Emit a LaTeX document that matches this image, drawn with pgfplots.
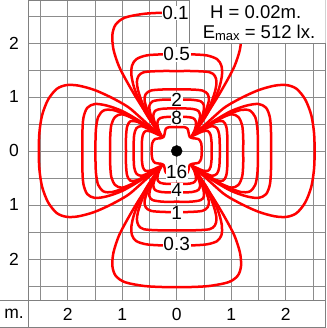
\documentclass[border=0pt]{standalone}
\usepackage{pgfplots}
\pgfplotsset{compat=1.18}
\usepackage{fontspec}
\setmainfont{Liberation Sans}
\pgfplotsset{ct/.style={color=red, line width=2.5pt, smooth, tension=0.5, no markers, line join=round, line cap=round}}
\newcommand{\lbl}[3]{\node[fill=white, inner sep=0.6pt, font=\fontsize{19}{19}\selectfont] at (axis cs:#1,#2) {#3};}
\begin{document}
\begin{tikzpicture}
\path[use as bounding box] (0,0) rectangle (326pt,328pt);
\begin{axis}[
  at={(28pt,28pt)}, anchor=south west,
  scale only axis, width=297.5pt, height=300pt,
  xmin=-2.728, xmax=2.73, ymin=-2.76, ymax=2.796,
  axis line style={draw=black!50, line width=0.8pt},
  xtick={-2,-1,0,1,2}, xticklabels={2,1,0,1,2},
  ytick={-2,-1,0,1,2}, yticklabels={2,1,0,1,2},
  minor xtick={-2.5,-1.5,-0.5,0.5,1.5,2.5},
  minor ytick={-2.5,-1.5,-0.5,0.5,1.5,2.5},
  grid=both,
  major grid style={black!45, line width=0.6pt},
  minor grid style={black!45, line width=0.6pt},
  major tick length=0pt, minor tick length=0pt,
  tick label style={font=\fontsize{17.5}{17.5}\selectfont},
  xticklabel style={anchor=center, yshift=-14pt},
  yticklabel style={anchor=center, xshift=-14pt},
]
% ---- 0.1 ----
\addplot[ct] coordinates {(-0.34,0.34) (-0.42,0.48) (-0.53,0.65) (-0.72,0.95) (-0.90,1.26) (-1.06,1.57) (-1.16,1.88) (-1.18,2.15) (-1.12,2.34) (-0.95,2.47) (-0.60,2.54) (-0.25,2.56) (0,2.56) (0.25,2.56) (0.60,2.54) (0.95,2.47) (1.12,2.34) (1.18,2.15) (1.16,1.88) (1.06,1.57) (0.90,1.26) (0.72,0.95) (0.53,0.65) (0.42,0.48) (0.34,0.34)};
\addplot[ct] coordinates {(-0.34,-0.34) (-0.42,-0.48) (-0.53,-0.65) (-0.72,-0.95) (-0.90,-1.26) (-1.06,-1.57) (-1.16,-1.88) (-1.18,-2.13) (-1.12,-2.31) (-0.95,-2.43) (-0.60,-2.50) (-0.25,-2.52) (0,-2.52) (0.25,-2.52) (0.60,-2.50) (0.95,-2.43) (1.12,-2.31) (1.18,-2.13) (1.16,-1.88) (1.06,-1.57) (0.90,-1.26) (0.72,-0.95) (0.53,-0.65) (0.42,-0.48) (0.34,-0.34)};
\addplot[ct] coordinates {(-0.34,0.34) (-0.48,0.45) (-0.70,0.65) (-0.90,0.82) (-1.20,0.99) (-1.51,1.13) (-1.80,1.21) (-2.02,1.22) (-2.20,1.15) (-2.36,0.95) (-2.47,0.66) (-2.52,0.33) (-2.53,0) (-2.52,-0.33) (-2.47,-0.66) (-2.36,-0.95) (-2.20,-1.15) (-2.02,-1.22) (-1.80,-1.21) (-1.51,-1.13) (-1.20,-0.99) (-0.90,-0.82) (-0.70,-0.65) (-0.48,-0.45) (-0.34,-0.34)};
\addplot[ct] coordinates {(0.34,0.34) (0.48,0.45) (0.70,0.65) (0.90,0.82) (1.20,0.99) (1.51,1.13) (1.80,1.21) (2.02,1.22) (2.20,1.15) (2.36,0.95) (2.47,0.66) (2.52,0.33) (2.53,0) (2.52,-0.33) (2.47,-0.66) (2.36,-0.95) (2.20,-1.15) (2.02,-1.22) (1.80,-1.21) (1.51,-1.13) (1.20,-0.99) (0.90,-0.82) (0.70,-0.65) (0.48,-0.45) (0.34,-0.34)};
% ---- 0.3 ----
\addplot[ct] coordinates {(-0.33,0.33) (-0.42,0.47) (-0.55,0.67) (-0.68,0.92) (-0.78,1.17) (-0.83,1.40) (-0.82,1.58) (-0.74,1.70) (-0.55,1.77) (-0.25,1.79) (0,1.79) (0.25,1.79) (0.55,1.77) (0.74,1.70) (0.82,1.58) (0.83,1.40) (0.78,1.17) (0.68,0.92) (0.55,0.67) (0.42,0.47) (0.33,0.33)};
\addplot[ct] coordinates {(-0.33,-0.33) (-0.42,-0.47) (-0.55,-0.67) (-0.68,-0.92) (-0.78,-1.17) (-0.83,-1.39) (-0.82,-1.56) (-0.74,-1.67) (-0.55,-1.73) (-0.25,-1.75) (0,-1.75) (0.25,-1.75) (0.55,-1.73) (0.74,-1.67) (0.82,-1.56) (0.83,-1.39) (0.78,-1.17) (0.68,-0.92) (0.55,-0.67) (0.42,-0.47) (0.33,-0.33)};
\addplot[ct] coordinates {(-0.33,0.33) (-0.47,0.42) (-0.72,0.58) (-1.00,0.74) (-1.28,0.84) (-1.50,0.87) (-1.64,0.80) (-1.71,0.62) (-1.73,0.35) (-1.73,0) (-1.73,-0.35) (-1.71,-0.62) (-1.64,-0.80) (-1.50,-0.87) (-1.28,-0.84) (-1.00,-0.74) (-0.72,-0.58) (-0.47,-0.42) (-0.33,-0.33)};
\addplot[ct] coordinates {(0.33,0.33) (0.47,0.42) (0.72,0.58) (1.00,0.74) (1.28,0.84) (1.50,0.87) (1.64,0.80) (1.71,0.62) (1.73,0.35) (1.73,0) (1.73,-0.35) (1.71,-0.62) (1.64,-0.80) (1.50,-0.87) (1.28,-0.84) (1.00,-0.74) (0.72,-0.58) (0.47,-0.42) (0.33,-0.33)};
% ---- 0.5 ----
\addplot[ct] coordinates {(-0.32,0.32) (-0.41,0.46) (-0.53,0.67) (-0.64,0.91) (-0.71,1.13) (-0.73,1.28) (-0.70,1.39) (-0.60,1.46) (-0.30,1.48) (0,1.48) (0.30,1.48) (0.60,1.46) (0.70,1.39) (0.73,1.28) (0.71,1.13) (0.64,0.91) (0.53,0.67) (0.41,0.46) (0.32,0.32)};
\addplot[ct] coordinates {(-0.32,-0.32) (-0.41,-0.46) (-0.53,-0.67) (-0.64,-0.91) (-0.71,-1.13) (-0.73,-1.27) (-0.70,-1.38) (-0.60,-1.45) (-0.30,-1.47) (0,-1.47) (0.30,-1.47) (0.60,-1.45) (0.70,-1.38) (0.73,-1.27) (0.71,-1.13) (0.64,-0.91) (0.53,-0.67) (0.41,-0.46) (0.32,-0.32)};
\addplot[ct] coordinates {(-0.32,0.32) (-0.46,0.40) (-0.70,0.55) (-0.95,0.68) (-1.18,0.76) (-1.34,0.75) (-1.44,0.63) (-1.48,0.42) (-1.49,0.18) (-1.49,0) (-1.49,-0.18) (-1.48,-0.42) (-1.44,-0.63) (-1.34,-0.75) (-1.18,-0.76) (-0.95,-0.68) (-0.70,-0.55) (-0.46,-0.40) (-0.32,-0.32)};
\addplot[ct] coordinates {(0.32,0.32) (0.46,0.40) (0.70,0.55) (0.95,0.68) (1.18,0.76) (1.34,0.75) (1.44,0.63) (1.48,0.42) (1.49,0.18) (1.49,0) (1.49,-0.18) (1.48,-0.42) (1.44,-0.63) (1.34,-0.75) (1.18,-0.76) (0.95,-0.68) (0.70,-0.55) (0.46,-0.40) (0.32,-0.32)};
% ---- 1 ----
\addplot[ct] coordinates {(-0.31,0.31) (-0.39,0.44) (-0.48,0.61) (-0.55,0.79) (-0.59,0.94) (-0.57,1.05) (-0.47,1.12) (-0.22,1.14) (0,1.14) (0.22,1.14) (0.47,1.12) (0.57,1.05) (0.59,0.94) (0.55,0.79) (0.48,0.61) (0.39,0.44) (0.31,0.31)};
\addplot[ct] coordinates {(-0.31,-0.31) (-0.39,-0.44) (-0.48,-0.61) (-0.55,-0.79) (-0.59,-0.93) (-0.57,-1.04) (-0.47,-1.11) (-0.22,-1.13) (0,-1.13) (0.22,-1.13) (0.47,-1.11) (0.57,-1.04) (0.59,-0.93) (0.55,-0.79) (0.48,-0.61) (0.39,-0.44) (0.31,-0.31)};
\addplot[ct] coordinates {(-0.31,0.31) (-0.44,0.38) (-0.63,0.50) (-0.84,0.62) (-1.01,0.68) (-1.13,0.63) (-1.20,0.48) (-1.22,0.25) (-1.22,0) (-1.22,-0.25) (-1.20,-0.48) (-1.13,-0.63) (-1.01,-0.68) (-0.84,-0.62) (-0.63,-0.50) (-0.44,-0.38) (-0.31,-0.31)};
\addplot[ct] coordinates {(0.31,0.31) (0.44,0.38) (0.63,0.50) (0.84,0.62) (1.01,0.68) (1.13,0.63) (1.20,0.48) (1.22,0.25) (1.22,0) (1.22,-0.25) (1.20,-0.48) (1.13,-0.63) (1.01,-0.68) (0.84,-0.62) (0.63,-0.50) (0.44,-0.38) (0.31,-0.31)};
% ---- 2 ----
\addplot[ct] coordinates {(-0.30,0.30) (-0.37,0.42) (-0.44,0.57) (-0.49,0.72) (-0.50,0.84) (-0.44,0.92) (-0.25,0.95) (0,0.95) (0.25,0.95) (0.44,0.92) (0.50,0.84) (0.49,0.72) (0.44,0.57) (0.37,0.42) (0.30,0.30)};
\addplot[ct] coordinates {(-0.30,-0.30) (-0.37,-0.42) (-0.44,-0.57) (-0.49,-0.72) (-0.50,-0.84) (-0.44,-0.91) (-0.25,-0.94) (0,-0.94) (0.25,-0.94) (0.44,-0.91) (0.50,-0.84) (0.49,-0.72) (0.44,-0.57) (0.37,-0.42) (0.30,-0.30)};
\addplot[ct] coordinates {(-0.30,0.30) (-0.41,0.36) (-0.56,0.45) (-0.72,0.54) (-0.85,0.55) (-0.91,0.45) (-0.93,0.25) (-0.93,0) (-0.93,-0.25) (-0.91,-0.45) (-0.85,-0.55) (-0.72,-0.54) (-0.56,-0.45) (-0.41,-0.36) (-0.30,-0.30)};
\addplot[ct] coordinates {(0.30,0.30) (0.41,0.36) (0.56,0.45) (0.72,0.54) (0.85,0.55) (0.91,0.45) (0.93,0.25) (0.93,0) (0.93,-0.25) (0.91,-0.45) (0.85,-0.55) (0.72,-0.54) (0.56,-0.45) (0.41,-0.36) (0.30,-0.30)};
% ---- 4 ----
\addplot[ct] coordinates {(-0.29,0.29) (-0.35,0.40) (-0.40,0.52) (-0.43,0.64) (-0.40,0.74) (-0.28,0.78) (0,0.79) (0.28,0.78) (0.40,0.74) (0.43,0.64) (0.40,0.52) (0.35,0.40) (0.29,0.29)};
\addplot[ct] coordinates {(-0.29,-0.29) (-0.35,-0.40) (-0.40,-0.52) (-0.43,-0.63) (-0.40,-0.72) (-0.28,-0.76) (0,-0.77) (0.28,-0.76) (0.40,-0.72) (0.43,-0.63) (0.40,-0.52) (0.35,-0.40) (0.29,-0.29)};
\addplot[ct] coordinates {(-0.29,0.29) (-0.39,0.34) (-0.52,0.41) (-0.65,0.46) (-0.74,0.42) (-0.78,0.30) (-0.79,0.12) (-0.79,0) (-0.79,-0.12) (-0.78,-0.30) (-0.74,-0.42) (-0.65,-0.46) (-0.52,-0.41) (-0.39,-0.34) (-0.29,-0.29)};
\addplot[ct] coordinates {(0.29,0.29) (0.39,0.34) (0.52,0.41) (0.65,0.46) (0.74,0.42) (0.78,0.30) (0.79,0.12) (0.79,0) (0.79,-0.12) (0.78,-0.30) (0.74,-0.42) (0.65,-0.46) (0.52,-0.41) (0.39,-0.34) (0.29,-0.29)};
% ---- 8 ----
\addplot[ct] coordinates {(-0.27,0.27) (-0.32,0.36) (-0.35,0.46) (-0.35,0.55) (-0.30,0.61) (-0.18,0.63) (0,0.63) (0.18,0.63) (0.30,0.61) (0.35,0.55) (0.35,0.46) (0.32,0.36) (0.27,0.27)};
\addplot[ct] coordinates {(-0.27,-0.27) (-0.32,-0.36) (-0.35,-0.46) (-0.35,-0.54) (-0.30,-0.59) (-0.18,-0.61) (0,-0.61) (0.18,-0.61) (0.30,-0.59) (0.35,-0.54) (0.35,-0.46) (0.32,-0.36) (0.27,-0.27)};
\addplot[ct] coordinates {(-0.27,0.27) (-0.36,0.31) (-0.47,0.36) (-0.57,0.37) (-0.62,0.30) (-0.64,0.15) (-0.64,0) (-0.64,-0.15) (-0.62,-0.30) (-0.57,-0.37) (-0.47,-0.36) (-0.36,-0.31) (-0.27,-0.27)};
\addplot[ct] coordinates {(0.27,0.27) (0.36,0.31) (0.47,0.36) (0.57,0.37) (0.62,0.30) (0.64,0.15) (0.64,0) (0.64,-0.15) (0.62,-0.30) (0.57,-0.37) (0.47,-0.36) (0.36,-0.31) (0.27,-0.27)};
% ---- 16 ----
\addplot[ct] coordinates {(0,0.44) (0.14,0.44) (0.20,0.41) (0.22,0.33) (0.24,0.26) (0.30,0.235) (0.40,0.22) (0.45,0.14) (0.46,0) (0.45,-0.14) (0.40,-0.22) (0.30,-0.235) (0.24,-0.26) (0.22,-0.33) (0.20,-0.40) (0.14,-0.42) (0,-0.42) (-0.14,-0.42) (-0.20,-0.40) (-0.22,-0.33) (-0.24,-0.26) (-0.30,-0.235) (-0.40,-0.22) (-0.45,-0.14) (-0.46,0) (-0.45,0.14) (-0.40,0.22) (-0.30,0.235) (-0.24,0.26) (-0.22,0.33) (-0.20,0.41) (-0.14,0.44) (0,0.44)};
% centre
\addplot[only marks, mark=*, mark size=5.5pt, black] coordinates {(0,0)};
% labels
\lbl{-0.02}{2.555}{0.1}
\lbl{0}{1.79}{0.5}
\lbl{0}{0.95}{2}
\lbl{0}{0.61}{8}
\lbl{0}{-0.395}{16}
\lbl{0}{-0.72}{4}
\lbl{0}{-1.15}{1}
\lbl{0}{-1.72}{0.3}
% info box
\draw[black!50, line width=0.8pt, fill=white] (axis cs:0.24,1.994) rectangle (axis cs:2.8,2.9);
\node[font=\fontsize{18.5}{18.5}\selectfont] at (axis cs:1.45,2.575) {H = 0.02m.};
\node[font=\fontsize{18.5}{18.5}\selectfont] at (axis cs:1.51,2.185) {E\raisebox{-2.5pt}{\fontsize{13}{13}\selectfont max} = 512 lx.};
\end{axis}
\draw[black!50, line width=0.8pt] (0,28pt) -- (28pt,28pt);
\draw[black!50, line width=0.8pt] (28pt,0) -- (28pt,28pt);
\draw[black!50, line width=0.8pt] (0,0.4pt) -- (326pt,0.4pt);
\draw[black!50, line width=0.8pt] (325.5pt,0) -- (325.5pt,28pt);
\node[font=\fontsize{17.5}{17.5}\selectfont] at (14pt,14pt) {m.};
\end{tikzpicture}
\end{document}
